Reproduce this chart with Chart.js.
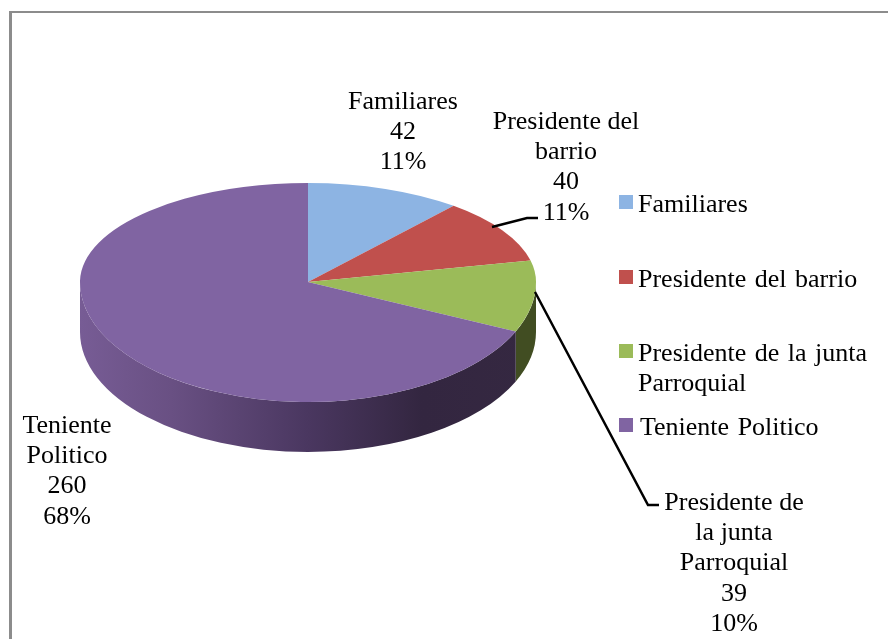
<!DOCTYPE html>
<html>
<head>
<meta charset="utf-8">
<script src="https://cdn.jsdelivr.net/npm/chart.js@4"></script>
<style>
  html, body { margin: 0; padding: 0; background: #fff; overflow: hidden; }
  #frame { position: absolute; left: 9px; top: 11px; width: 879px; height: 628px;
           border-left: 3px solid #8c8c8c; border-top: 2px solid #8c8c8c; box-sizing: border-box; }
  canvas { position: absolute; left: 0; top: 0; }
</style>
</head>
<body>
<div id="frame"></div>
<canvas id="myPie" width="888" height="639"></canvas>
<script>
var categories = ["Familiares", "Presidente del barrio", "Presidente de la junta Parroquial", "Teniente Politico"];
var values = [42, 40, 39, 260];
var percents = ["11%", "11%", "10%", "68%"];
var colors = ["#8db4e3", "#c0504d", "#9bbb59", "#8064a2"];

// how the labels wrap in the picture
var labelLines = [
  ["Familiares"],
  ["Presidente del", "barrio"],
  ["Presidente de", "la junta", "Parroquial"],
  ["Teniente", "Politico"]
];
var legendLines = [
  ["Familiares"],
  ["Presidente del barrio"],
  ["Presidente de la junta", "Parroquial"],
  ["Teniente Politico"]
];

var FONT = "26px 'Liberation Serif'";
var LINE = 30.3;
var labelPos = [[403, 102], [566, 122], [734, 503], [67, 426]];
var legendX = [638, 638, 638, 640];
var legendY = [203, 278, 352, 426];
var leaders = [
  [[492, 227], [527, 218], [538, 218]],
  [[535, 292], [648, 505], [659, 505]]
];

// the slanted look: top half of the disc is flatter than the front half
var BACK_RY = 99 / 228;
var FRONT_RY = 120 / 228;
var DEPTH = 50;

function wall(ctx, arc, from, to, fill) {
  var ry = arc.outerRadius * FRONT_RY;
  ctx.beginPath();
  ctx.ellipse(arc.x, arc.y, arc.outerRadius, ry, 0, from, to);
  ctx.ellipse(arc.x, arc.y + DEPTH, arc.outerRadius, ry, 0, to, from, true);
  ctx.closePath();
  ctx.fillStyle = fill;
  ctx.fill();
}

function topFace(chart, arcs, ratio, clipTop, clipH) {
  var ctx = chart.ctx;
  ctx.save();
  ctx.beginPath();
  ctx.rect(0, clipTop, chart.width, clipH);
  ctx.clip();
  ctx.translate(arcs[0].x, arcs[0].y);
  ctx.scale(1, ratio);
  ctx.translate(-arcs[0].x, -arcs[0].y);
  arcs.forEach(function (a) { a.draw(ctx); });
  ctx.restore();
}

var tiltedPie = {
  id: "tiltedPie",
  beforeDatasetsDraw: function (chart) {
    var ctx = chart.ctx;
    var arcs = chart.getDatasetMeta(0).data;
    var a = arcs[0];

    var purple = ctx.createLinearGradient(a.x - a.outerRadius, 0, a.x + a.outerRadius, 0);
    purple.addColorStop(0, "#775c95");
    purple.addColorStop(0.2, "#695083");
    purple.addColorStop(0.5, "#4a3760");
    purple.addColorStop(0.75, "#332640");
    purple.addColorStop(1, "#352841");

    // side wall, only the part of each slice that faces the viewer
    arcs.forEach(function (arc, i) {
      var from = Math.max(arc.startAngle, 0);
      var to = Math.min(arc.endAngle, Math.PI);
      if (to <= from) return;
      wall(ctx, arc, from, to, i === 3 ? purple : i === 2 ? "#414d22" : colors[i]);
    });

    topFace(chart, arcs, BACK_RY, 0, a.y);
    topFace(chart, arcs, FRONT_RY, a.y, chart.height - a.y);
    return false;
  },
  afterDraw: function (chart) {
    var ctx = chart.ctx;
    ctx.save();

    ctx.strokeStyle = "#000";
    ctx.lineWidth = 2.5;
    leaders.forEach(function (pts) {
      ctx.beginPath();
      pts.forEach(function (p, i) { i ? ctx.lineTo(p[0], p[1]) : ctx.moveTo(p[0], p[1]); });
      ctx.stroke();
    });

    ctx.font = FONT;
    ctx.fillStyle = "#000";
    ctx.textBaseline = "middle";

    ctx.textAlign = "center";
    categories.forEach(function (c, i) {
      var lines = labelLines[i].concat([String(values[i]), percents[i]]);
      lines.forEach(function (t, j) {
        ctx.fillText(t, labelPos[i][0], labelPos[i][1] + j * LINE);
      });
    });

    ctx.textAlign = "left";
    ctx.wordSpacing = "2px";
    categories.forEach(function (c, i) {
      ctx.fillStyle = colors[i];
      ctx.fillRect(619, legendY[i] - 8, 14, 14);
      ctx.fillStyle = "#000";
      legendLines[i].forEach(function (t, j) {
        ctx.fillText(t, j ? 638 : legendX[i], legendY[i] + 2 + j * LINE);
      });
    });
    ctx.restore();
  }
};

new Chart("myPie", {
  type: "pie",
  data: {
    labels: categories,
    datasets: [{
      data: values,
      backgroundColor: colors,
      borderWidth: 0
    }]
  },
  options: {
    responsive: false,
    animation: false,
    layout: { padding: { left: 80, right: 352, top: 54, bottom: 129 } },
    plugins: {
      legend: { display: false },
      tooltip: { enabled: false }
    }
  },
  plugins: [tiltedPie]
});
</script>
</body>
</html>
